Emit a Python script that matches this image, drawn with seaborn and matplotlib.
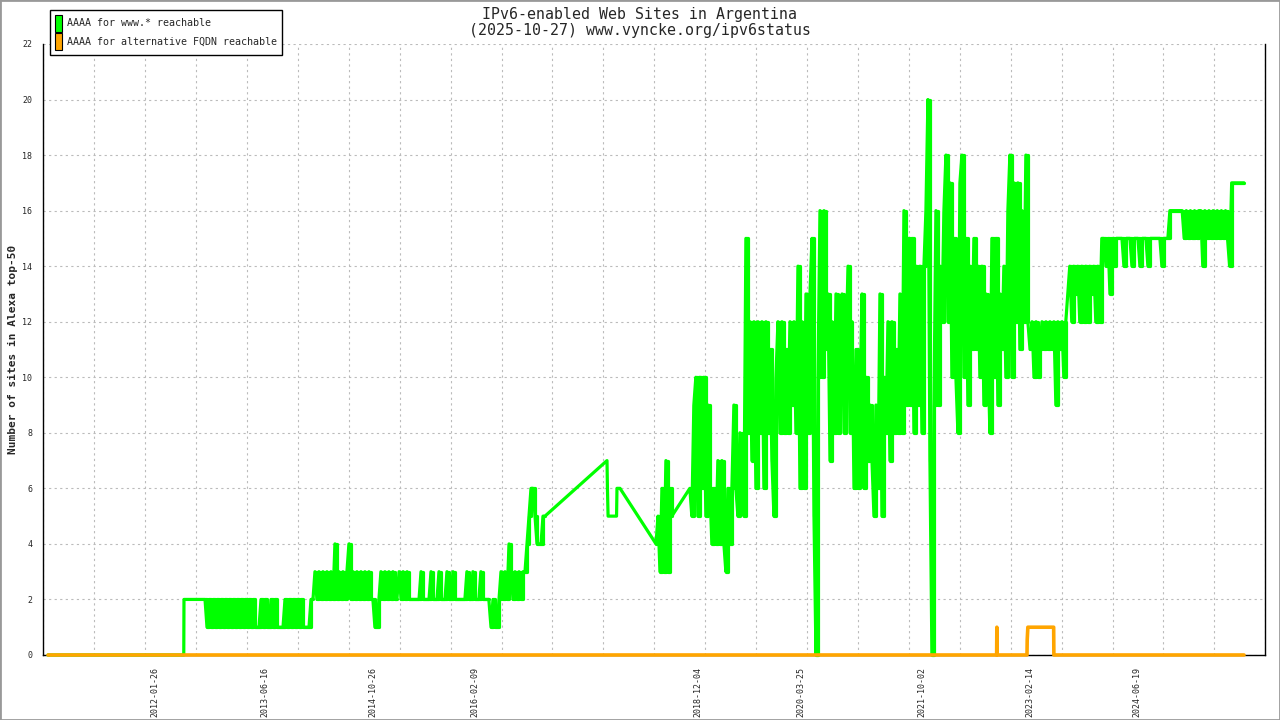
import pandas as pd
import numpy as np
import seaborn as sns
import matplotlib.pyplot as plt
import matplotlib.dates as mdates
from matplotlib.patches import Patch, Rectangle

# ---- data (values per sample, dates spread evenly in each span) ----
www_start_dates = ["2010-09-20", "2012-06-07", "2012-06-08", "2012-09-12"]
www_start_values = [0, 0, 2, 2]

www_2012_span = ("2012-09-13", "2014-01-24")
www_2012 = [2, 1, 2, 1, 2, 1, 2, 1, 2, 1, 2, 1, 2, 1, 2, 1, 2, 1, 2, 1,
            2, 1, 2, 1, 2, 1, 1, 1, 2, 1, 2, 1, 1, 2, 1, 2, 1, 1, 1, 1,
            2, 1, 2, 1, 2, 1, 2, 1, 2, 1, 1, 1, 1, 2, 2]

www_2014_span = ("2014-02-02", "2015-02-15")
www_2014 = [3, 2, 3, 2, 3, 2, 3, 2, 3, 2, 4, 2, 3, 2, 3, 2, 3, 4, 2, 3,
            2, 3, 2, 3, 2, 3, 2, 3, 2, 2, 1, 1, 2, 3, 2, 3, 2, 3, 2, 3,
            2, 2]

www_2015_span = ("2015-02-25", "2016-04-14")
www_2015 = [3, 2, 3, 2, 3, 2, 2, 2, 2, 2, 2, 3, 2, 2, 2, 2, 3, 2, 2, 2,
            3, 2, 2, 2, 3, 2, 2, 3, 2, 2, 2, 2, 2, 2, 3, 2, 2, 3, 2, 2,
            2, 3, 2, 2, 2, 2]

www_2016_span = ("2016-04-24", "2016-12-29")
www_2016 = [1, 2, 1, 1, 2, 3, 2, 3, 2, 4, 3, 2, 3, 2, 3, 2, 3, 3, 4, 5,
            6, 6, 5, 4, 4, 4, 5, 5]

www_gap_dates = ["2017-10-11", "2017-10-13", "2017-10-16", "2017-11-24", "2017-11-26", "2017-12-10"]
www_gap_values = [7, 6, 5, 5, 6, 6]

www_2018_span = ("2018-05-25", "2018-08-06")
www_2018 = [4, 5, 3, 6, 3, 7, 3, 6, 5]

www_2019_span = ("2018-10-28", "2020-11-14")
www_2019 = [6, 5, 9, 10, 5, 10, 6, 10, 5, 9,
            6, 4, 6, 4, 7, 4, 7, 4, 3, 6,
            4, 6, 9, 6, 5, 8, 6, 5, 15, 8,
            12, 7, 12, 6, 12, 8, 12, 6, 12, 8,
            11, 7, 5, 10, 12, 8, 12, 8, 11, 8,
            12, 9, 12, 8, 14, 6, 12, 6, 13, 8,
            13, 15, 5, 0, 10, 16, 10, 16, 11, 13,
            7, 12, 8, 13, 8, 12, 13, 8, 11, 14,
            8, 12]

www_2021_span = ("2020-11-23", "2023-02-03")
www_2021 = [6, 11, 6, 9, 13, 6, 10, 7, 9, 7,
            5, 9, 6, 13, 5, 10, 8, 12, 7, 12,
            8, 11, 8, 13, 8, 16, 9, 15, 9, 15,
            8, 14, 9, 14, 8, 14, 16, 20, 7, 0,
            9, 16, 9, 14, 12, 16, 18, 12, 17, 10,
            15, 10, 8, 17, 18, 10, 15, 9, 14, 11,
            15, 11, 14, 10, 14, 9, 13, 11, 8, 15,
            10, 15, 9, 13, 11, 14, 10, 16, 18, 10,
            17, 12, 17, 11, 16, 12, 18, 12]

www_2023_span = ("2023-02-13", "2023-07-28")
www_2023 = [11, 12, 10, 12, 10, 11, 12, 11, 12, 11, 12, 11, 12, 9, 12, 11, 12, 10, 12]

www_2023b_span = ("2023-08-06", "2024-01-10")
www_2023b = [13, 14, 12, 14, 13, 14, 12, 14, 12, 14, 12, 14, 13, 14, 12, 14, 12, 15]

www_2024_span = ("2024-01-20", "2024-11-19")
www_2024 = [15, 14, 15, 13, 15, 14, 15, 15, 15, 15, 14, 15, 15, 15, 14, 15, 15, 15, 14, 15,
            15, 15, 14, 15, 15, 15, 15, 15, 15, 14, 15, 15, 15, 16]

www_2025_span = ("2024-11-28", "2025-10-27")
www_2025 = [16, 16, 16, 16, 16, 16, 15, 16, 15, 16, 15, 16, 15, 16, 16, 14, 16, 15, 16, 15,
            16, 15, 16, 15, 16, 15, 16, 15, 14, 17, 17, 17, 17, 17, 17, 17]

alt_dates = ["2010-09-20", "2022-09-12", "2022-09-13", "2022-09-14", "2023-01-30",
             "2023-01-31", "2023-02-03", "2023-06-02", "2023-06-03", "2025-10-27"]
alt_values = [0, 0, 1, 0, 0, 0.55, 1, 1, 0, 0]

label_dates = ["2012-01-26", "2013-06-16", "2014-10-26", "2016-02-09", "2018-12-04",
               "2020-03-25", "2021-10-02", "2023-02-14", "2024-06-19"]


def span_frame(span, values, part):
    dates = pd.date_range(span[0], span[1], periods=len(values))
    return pd.DataFrame({"date": dates, "sites": values, "part": part})


def point_frame(dates, values, part):
    return pd.DataFrame({"date": pd.to_datetime(dates), "sites": values, "part": part})


spans = [(www_2012_span, www_2012), (www_2014_span, www_2014), (www_2015_span, www_2015),
         (www_2016_span, www_2016), (www_2018_span, www_2018), (www_2019_span, www_2019),
         (www_2021_span, www_2021), (www_2023_span, www_2023), (www_2023b_span, www_2023b),
         (www_2024_span, www_2024), (www_2025_span, www_2025)]

dense = pd.concat([span_frame(s, v, i) for i, (s, v) in enumerate(spans)], ignore_index=True)
www = pd.concat([point_frame(www_start_dates, www_start_values, -1),
                 point_frame(www_gap_dates, www_gap_values, -2),
                 dense], ignore_index=True).sort_values("date")
alt = point_frame(alt_dates, alt_values, 0)

sns.set_style("white")
plt.rcParams["font.family"] = ["DejaVu Sans Mono"]

fig = plt.figure(figsize=(12.8, 7.2), dpi=100)
ax = fig.add_axes([0.0338, 0.0903, 0.9547, 0.8486])

# whole series joined by straight lines (gives the slopes across missing data)
sns.lineplot(data=www, x="date", y="sites", estimator=None, sort=False,
             color="#00ff00", linewidth=2.3, ax=ax, clip_on=False, zorder=3)
# daily-style steps inside each sampled span
sns.lineplot(data=dense, x="date", y="sites", units="part", estimator=None, sort=False,
             color="#00ff00", linewidth=2.3, ax=ax, clip_on=False, zorder=3,
             drawstyle="steps-post")
sns.lineplot(data=alt, x="date", y="sites", estimator=None, sort=False,
             color="#ffa500", linewidth=2.6, ax=ax, clip_on=False, zorder=4)

x0 = mdates.date2num(pd.Timestamp("2010-08-29"))
x1 = mdates.date2num(pd.Timestamp("2026-02-02"))
ax.set_xlim(x0, x1)
ax.set_ylim(0, 22)

ax.set_xticks(np.linspace(x0, x1, 25))
ax.set_xticklabels([])
ax.set_xticks(mdates.date2num(pd.to_datetime(label_dates)), labels=label_dates, minor=True)
ax.set_yticks(range(0, 23, 2))

ax.tick_params(axis="x", which="major", direction="inout", length=10, width=1, color="black")
ax.tick_params(axis="x", which="minor", length=0, pad=9, labelsize=6, labelrotation=90)
ax.tick_params(axis="y", direction="inout", length=10, width=1, color="black", labelsize=6, pad=3)

ax.grid(True, which="major", color="#bbbbbb", linestyle=(0, (2, 3)), linewidth=0.8)
for side in ["left", "bottom", "right"]:
    ax.spines[side].set_color("black")
    ax.spines[side].set_linewidth(1)
ax.spines["top"].set_visible(False)

ax.set_xlabel("")
ax.set_ylabel("Number of sites in Alexa top-50", fontsize=8, fontweight="bold")
ax.yaxis.set_label_coords(-0.021, 0.5)

fig.text(0.5, 1 - 14 / 720, "IPv6-enabled Web Sites in Argentina", ha="center", va="center", fontsize=10.7)
fig.text(0.5, 1 - 31 / 720, "(2025-10-27) www.vyncke.org/ipv6status", ha="center", va="center", fontsize=10.7)

handles = [Patch(facecolor="#00ff00", edgecolor="black", linewidth=0.8, label="AAAA for www.* reachable"),
           Patch(facecolor="#ffa500", edgecolor="black", linewidth=0.8, label="AAAA for alternative FQDN reachable")]
leg = fig.legend(handles=handles, loc="upper left", bbox_to_anchor=(50 / 1280, 1 - 10 / 720),
                 borderaxespad=0, fontsize=7.2, handlelength=0.7, handleheight=2.2,
                 handletextpad=0.5, labelspacing=0.15, borderpad=0.5,
                 fancybox=False, framealpha=1, edgecolor="black")
leg.get_frame().set_linewidth(1)

fig.patches.append(Rectangle((0, 0), 1, 1, transform=fig.transFigure, fill=False,
                             edgecolor="#999999", linewidth=2))

plt.savefig("out.png", dpi=100)
